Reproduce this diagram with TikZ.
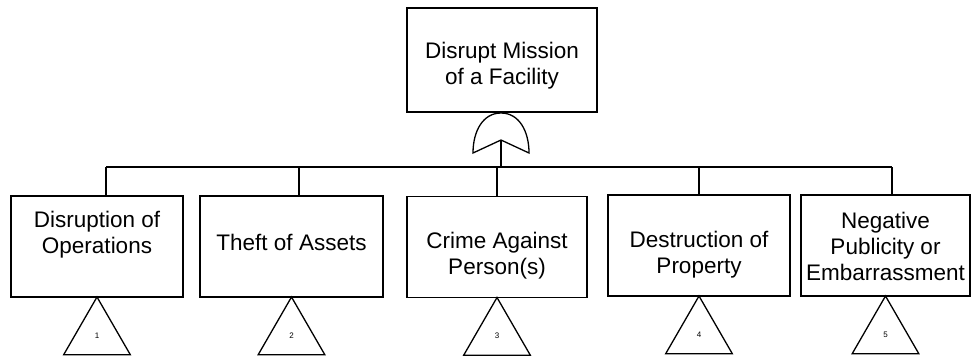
\documentclass[tikz,border=0pt]{standalone}
\usepackage{fontspec}
\setmainfont{Liberation Sans}
\usetikzlibrary{positioning,shapes.geometric}
\begin{document}
\begin{tikzpicture}[x=1pt, y=-1pt, line width=1.3pt,
		event/.style = {draw, rectangle, minimum height=101pt, inner sep=0pt, outer sep=0pt},
		caption/.style = {align=center, inner sep=0pt, font=\fontsize{22.5}{26}\selectfont},
		transfer/.style = {draw, regular polygon, regular polygon sides=3, minimum size=77pt,
			inner sep=0pt, outer sep=0pt, font=\fontsize{8}{9}\selectfont}]
		\useasboundingbox (0,0) rectangle (971,360);
		% top event
		\node[event, minimum width=190pt, minimum height=104pt] (top) at (502,60) {};
		\node[caption] (ctop) at (502,66) {Disrupt Mission\\of a Facility};
		% or gate
		\coordinate (apex) at (501,113);
		\coordinate (notch) at (501,140);
		\coordinate (tipl) at (473,153);
		\coordinate (tipr) at (529,153);
		\draw (apex) .. controls (483,113) and (473,131) .. (tipl) -- (notch)
			-- (tipr) .. controls (529,131) and (519,113) .. (apex) -- cycle;
		% sub events
		\node[event, minimum width=172pt] (b1) at (97,246.5) {};
		\node[event, minimum width=183pt] (b2) at (291.5,246.5) {};
		\node[event, minimum width=180pt] (b3) at (497,247) {};
		\node[event, minimum width=182pt] (b4) at (699,245.5) {};
		\node[event, minimum width=169pt] (b5) at (885.5,245.5) {};
		\node[caption] (c1) at (97,235) {Disruption of\\Operations};
		\node[caption] (c2) at (291.5,242) {Theft of Assets};
		\node[caption] (c3) at (497,256) {Crime Against\\Person(s)};
		\node[caption] (c4) at (699,255) {Destruction of\\Property};
		\node[caption] (c5) at (885.5,246) {Negative\\Publicity or\\Embarrassment};
		% transfers
		\node[transfer] (tr1) [below=0pt of b1] {1};
		\node[transfer] (tr2) [below=0pt of b2] {2};
		\node[transfer] (tr3) [below=0pt of b3] {3};
		\node[transfer] (tr4) [below=0pt of b4] {4};
		\node[transfer] (tr5) [below=0pt of b5] {5};
		% connectors
		\coordinate (j1) at (106,167);
		\coordinate (j2) at (299,167);
		\coordinate (j3) at (497,167);
		\coordinate (j4) at (699,167);
		\coordinate (j5) at (892,167);
		\draw (notch) -- (notch |- j1);
		\draw (j1) -- (j5);
		\foreach \i in {1,...,5}
			\draw (j\i) -- (j\i |- b\i.north);
	\end{tikzpicture}
\end{document}
